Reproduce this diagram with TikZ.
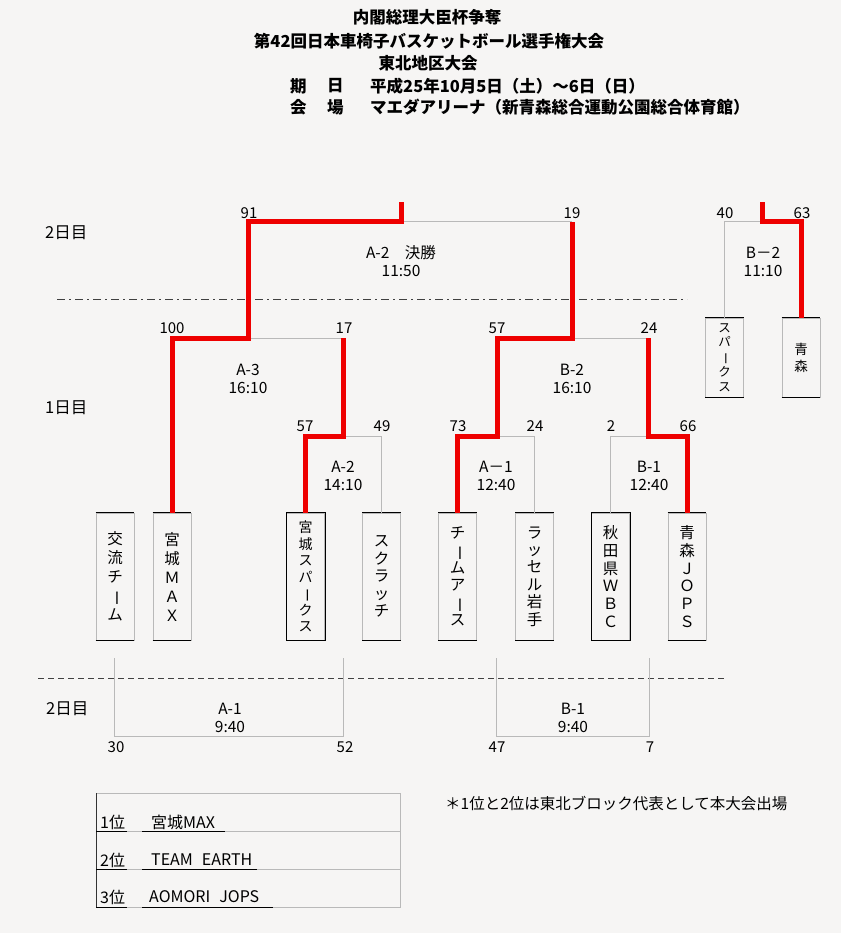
\documentclass[tikz,border=0pt]{standalone}
\usepackage{fontspec}
\setmainfont{Noto Sans CJK JP}
\usepackage{graphicx}
\usetikzlibrary{calc}
\definecolor{winred}{RGB}{238,0,0}
\definecolor{lgray}{RGB}{185,185,185}
\definecolor{bgcol}{RGB}{246,245,244}
\newcommand{\chouon}{\rotatebox[origin=c]{-90}{ー}}
\tikzset{
  txt/.style={inner sep=0pt, font=\fontsize{15.5}{17}\selectfont},
  hdr/.style={inner sep=0pt, font=\fontsize{16.5}{20}\selectfont\bfseries},
  daylbl/.style={inner sep=0pt, anchor=west, font=\fontsize{16.5}{18}\selectfont},
  score/.style={inner sep=0pt, font=\fontsize{15}{16}\selectfont},
  rank/.style={inner sep=0pt, anchor=west, font=\fontsize{16}{18}\selectfont},
  teambox/.style={draw=lgray, line width=0.8pt, minimum width=38pt, minimum height=127pt,
    inner sep=0pt, align=center, font=\fontsize{15.5}{19}\selectfont},
  smallbox/.style={teambox, minimum height=79pt, font=\fontsize{12.5}{14.8}\selectfont},
  win/.style={draw=winred, line width=5pt},
  lose/.style={draw=lgray, line width=1pt},
  daysep/.style={draw=black!75, line width=1pt, dash pattern=on 8pt off 4pt on 2pt off 4pt},
  daysep2/.style={draw=black!75, line width=1pt, dash pattern=on 6pt off 4pt},
}
\begin{document}
\begin{tikzpicture}[x=1pt,y=-1pt]
\fill[bgcol] (0,0) rectangle (841,933);
\useasboundingbox (0,0) rectangle (841,933);

% header
\node[hdr] (h1) at (427,17) {内閣総理大臣杯争奪};
\node[hdr] (h2) at (429,41) {第42回日本車椅子バスケットボール選手権大会};
\node[hdr] (h3) at (428,63) {東北地区大会};
\node[hdr,anchor=west] (h4a) at (290,86) {期};
\node[hdr,anchor=west] (h4b) at (327,86) {日};
\node[hdr,anchor=west] (h4c) at (370,86) {平成25年10月5日（土）～6日（日）};
\node[hdr,anchor=west] (h5a) at (290,107) {会};
\node[hdr,anchor=west] (h5b) at (327,107) {場};
\node[hdr,anchor=west] (h5c) at (370,107) {マエダアリーナ（新青森総合運動公園総合体育館）};

% day labels
\node[daylbl] (d1) at (45,233) {2日目};
\node[daylbl] (d2) at (45,408) {1日目};
\node[daylbl] (d3) at (46,709) {2日目};

% separators
\draw[daysep] (57,299) -- (687,299);
\draw[daysep2] (38,678) -- (727,678);

% team boxes
\node[teambox] (t1) at (115,576.5) {交\\流\\チ\\\chouon\\ム};
\node[teambox] (t2) at (172,576.5) {宮\\城\\Ｍ\\Ａ\\Ｘ};
\node[teambox, font=\fontsize{14}{16.5}\selectfont] (t3) at (305.5,576.5) {宮\\城\\ス\\パ\\\chouon\\ク\\ス};
\node[teambox, font=\fontsize{15.5}{17.5}\selectfont] (t4) at (381.5,576.5) {ス\\ク\\ラ\\ッ\\チ};
\node[teambox, font=\fontsize{15.5}{17.4}\selectfont] (t5) at (457.5,576.5) {チ\\\chouon\\ム\\ア\\\chouon\\ス};
\node[teambox, font=\fontsize{15.5}{17.4}\selectfont] (t6) at (534.5,576.5) {ラ\\ッ\\セ\\ル\\岩\\手};
\node[teambox, font=\fontsize{15.5}{17.8}\selectfont] (t7) at (610.5,576.5) {秋\\田\\県\\Ｗ\\Ｂ\\Ｃ};
\node[teambox, font=\fontsize{15.5}{17.8}\selectfont] (t8) at (687,576.5) {青\\森\\Ｊ\\Ｏ\\Ｐ\\Ｓ};
\node[smallbox] (t9) at (724.5,357.5) {ス\\パ\\\chouon\\ク\\ス};
\node[smallbox, font=\fontsize{13.5}{17}\selectfont] (t10) at (801,357.5) {青\\森};
\foreach \n in {t1,t2,t3,t4,t5,t6,t7,t8,t9,t10}{
  \draw[black, line width=0.8pt] (\n.north west) -- (\n.north east);
  \draw[black, line width=0.8pt] (\n.south west) -- (\n.south east);
}
\foreach \n in {t3,t7}{
  \draw[black, line width=0.8pt] (\n.north west) rectangle (\n.south east);
}

% bracket junctions
\coordinate (a2j) at (343,436);
\coordinate (a1j) at (497,436);
\coordinate (b1j) at (648,436);
\coordinate (a3j) at (248,338);
\coordinate (b2j) at (572,338);
\coordinate (fj) at (401,222);
\coordinate (ftop) at (401,202);
\coordinate (b2tj) at (762,222);
\coordinate (b2ttop) at (762,202);

% losing lines
\draw[lose] (t4.north) |- (a2j);
\draw[lose] (t6.north) |- (a1j);
\draw[lose] (t7.north) |- (b1j);
\draw[lose] (a2j |- a3j) -- (a3j);
\draw[lose] (b1j |- b2j) -- (b2j);
\draw[lose] (b2j |- fj) -- (fj);
\draw[lose] (t9.north) |- (b2tj);

% winning lines
\draw[win] (t2.north) |- (a3j) |- (fj) -- (ftop);
\draw[win] (t3.north) |- (a2j) -- (a2j |- a3j);
\draw[win] (t5.north) |- (a1j) |- (b2j) -- (b2j |- fj);
\draw[win] (t8.north) |- (b1j) -- (b1j |- b2j);
\draw[win] (t10.north) |- (b2tj) -- (b2ttop);

% day 2 lower brackets
\coordinate (p1) at (114,658);
\coordinate (p1b) at (114,736);
\coordinate (p2) at (343,658);
\coordinate (p2b) at (343,736);
\coordinate (q1) at (496,658);
\coordinate (q1b) at (496,736);
\coordinate (q2) at (649,658);
\coordinate (q2b) at (649,736);
\draw[lose] (p1) -- (p1b) -- (p2b) -- (p2);
\draw[lose] (q1) -- (q1b) -- (q2b) -- (q2);

% match labels
\node[txt] (m1) at (401,253) {A-2　決勝};
\node[txt] (m1t) at (401,271) {11:50};
\node[txt] (m2) at (763,253) {B－2};
\node[txt] (m2t) at (763,271) {11:10};
\node[txt] (m3) at (248,370) {A-3};
\node[txt] (m3t) at (248,388) {16:10};
\node[txt] (m4) at (572,370) {B-2};
\node[txt] (m4t) at (572,388) {16:10};
\node[txt] (m5) at (343,467) {A-2};
\node[txt] (m5t) at (343,485) {14:10};
\node[txt] (m6) at (496,467) {A－1};
\node[txt] (m6t) at (496,485) {12:40};
\node[txt] (m7) at (649,467) {B-1};
\node[txt] (m7t) at (649,485) {12:40};
\node[txt] (m8) at (230,709) {A-1};
\node[txt] (m8t) at (230,727) {9:40};
\node[txt] (m9) at (573,709) {B-1};
\node[txt] (m9t) at (573,727) {9:40};

% scores
\node[score] (s1) at (249,213) {91};
\node[score] (s2) at (572,213) {19};
\node[score] (s3) at (172,328) {100};
\node[score] (s4) at (344,328) {17};
\node[score] (s5) at (305,426) {57};
\node[score] (s6) at (382,426) {49};
\node[score] (s7) at (497,328) {57};
\node[score] (s8) at (649,328) {24};
\node[score] (s9) at (458,426) {73};
\node[score] (s10) at (535,426) {24};
\node[score] (s11) at (611,426) {2};
\node[score] (s12) at (688,426) {66};
\node[score] (s13) at (725,213) {40};
\node[score] (s14) at (802,213) {63};
\node[score] (s15) at (116,747) {30};
\node[score] (s16) at (345,747) {52};
\node[score] (s17) at (497,747) {47};
\node[score] (s18) at (650,747) {7};

% ranking table
\draw[lgray, line width=1pt] (96,793) rectangle (400,907);
\draw[lgray, line width=1pt] (96,831) -- (400,831);
\draw[lgray, line width=1pt] (96,869) -- (400,869);
\draw[black!80, line width=1pt] (96,793) -- (96,907);
\node[rank] (r1a) at (100,822) {1位};
\node[rank] (r1b) at (151,822) {宮城MAX};
\node[rank] (r2a) at (100,860) {2位};
\node[rank] (r2b) at (151,860) {TEAM\hspace{9pt}EARTH};
\node[rank] (r3a) at (100,897) {3位};
\node[rank] (r3b) at (149,897) {AOMORI\hspace{9pt}JOPS};
\draw[black, line width=1pt] (96,831) -- (127,831) (142,831) -- (225,831);
\draw[black, line width=1pt] (96,869) -- (127,869) (142,869) -- (257,869);
\draw[black, line width=1pt] (96,907) -- (127,907) (142,907) -- (273,907);

% note
\node[inner sep=0pt, anchor=west, font=\fontsize{15.5}{18}\selectfont] (note) at (445,803) {＊1位と2位は東北ブロック代表として本大会出場};
\end{tikzpicture}
\end{document}
